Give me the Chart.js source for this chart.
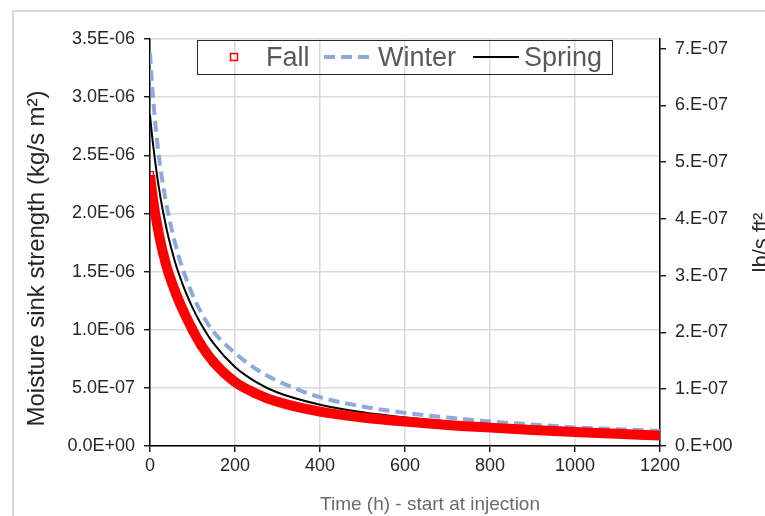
<!DOCTYPE html>
<html>
<head>
<meta charset="utf-8">
<script src="https://cdn.jsdelivr.net/npm/chart.js@4.4.1/dist/chart.umd.min.js"></script>
<style>
  html, body { margin: 0; padding: 0; background: #fff; overflow: hidden; }
  #wrap { position: relative; width: 765px; height: 516px; overflow: hidden; }
  #frame { position: absolute; left: 12px; top: 10px; width: 800px; height: 600px;
           border-left: 2px solid #d9d9d9; border-top: 2px solid #d9d9d9; }
  #myChart { position: absolute; left: 0; top: 0; }
  #legend { position: absolute; left: 197px; top: 40px; width: 416px; height: 35px; box-sizing: border-box;
            border: 1.5px solid #262626; font: 27px 'Liberation Sans', Arial, sans-serif; color: #595959; }
  #legend canvas, #legend span { position: absolute; top: 0; }
  #legend span { line-height: 32px; white-space: nowrap; }
</style>
</head>
<body>
<div id="wrap">
  <div id="frame"></div>
  <canvas id="myChart" width="765" height="516"></canvas>
  <div id="legend"></div>
</div>
<script>
// time since injection (h)
const hours = [0, 2, 4, 6, 8, 10, 12, 15, 18, 21, 25, 30, 35, 40, 50, 60, 70, 80, 100, 120, 150, 200, 250, 300, 400, 500, 600, 700, 800, 900, 1000, 1100, 1200];

// moisture sink strength, in 1E-06 kg/s m2
const fall   = [2.33, 2.27, 2.21, 2.15, 2.10, 2.05, 2.00, 1.94, 1.88, 1.82, 1.75, 1.67, 1.60, 1.53, 1.42, 1.32, 1.23, 1.15, 1.00, 0.87, 0.72, 0.55, 0.45, 0.38, 0.295, 0.245, 0.21, 0.18, 0.158, 0.138, 0.12, 0.105, 0.09];
const winter = [3.38, 3.26, 3.15, 3.05, 2.96, 2.87, 2.79, 2.68, 2.58, 2.49, 2.38, 2.26, 2.15, 2.05, 1.88, 1.73, 1.60, 1.49, 1.30, 1.15, 0.98, 0.80, 0.66, 0.56, 0.42, 0.34, 0.285, 0.245, 0.21, 0.185, 0.16, 0.145, 0.13];
const spring = [2.85, 2.77, 2.70, 2.63, 2.57, 2.51, 2.45, 2.37, 2.29, 2.22, 2.13, 2.03, 1.94, 1.85, 1.70, 1.57, 1.46, 1.36, 1.19, 1.05, 0.88, 0.68, 0.55, 0.46, 0.355, 0.29, 0.245, 0.21, 0.18, 0.16, 0.14, 0.125, 0.11];

const seriesNames = ['Fall', 'Winter', 'Spring'];

const xTickLabels = ['0', '200', '400', '600', '800', '1000', '1200'];
const leftTickLabels = ['0.0E+00', '5.0E-07', '1.0E-06', '1.5E-06', '2.0E-06', '2.5E-06', '3.0E-06', '3.5E-06'];
const rightTickLabels = ['0.E+00', '1.E-07', '2.E-07', '3.E-07', '4.E-07', '5.E-07', '6.E-07', '7.E-07'];

const xTitle = 'Time (h) - start at injection';
const leftTitle = 'Moisture sink strength (kg/s m\u00b2)';
const rightTitle = 'lb/s ft\u00b2';

const MICRO = 1e-6;
const KG_M2_PER_LB_FT2 = 4.8824;
const LEFT_MAX = 3.5e-6;

const FONT = "'Liberation Sans', Arial, sans-serif";
Chart.defaults.font.family = FONT;
Chart.defaults.font.size = 18;
Chart.defaults.color = '#262626';

function points(values) {
    return hours.map((h, i) => ({x: h, y: values[i] * MICRO}));
}

// axis titles are placed where the original puts them (not centred on the axis)
const axisTitles = {
    id: 'axisTitles',
    afterDraw(chart) {
        const ctx = chart.ctx;
        const a = chart.chartArea;
        const midY = (a.top + a.bottom) / 2;
        ctx.save();
        ctx.textAlign = 'center';

        ctx.fillStyle = '#262626';
        ctx.font = '24px ' + FONT;
        ctx.textBaseline = 'middle';
        ctx.save();
        ctx.translate(37, midY + 16);
        ctx.rotate(-Math.PI / 2);
        ctx.fillText(leftTitle, 0, 0);
        ctx.restore();

        ctx.font = '22px ' + FONT;
        ctx.textBaseline = 'alphabetic';
        ctx.save();
        ctx.translate(768, midY);
        ctx.rotate(-Math.PI / 2);
        ctx.fillText(rightTitle, 0, 0);
        ctx.restore();

        ctx.fillStyle = '#6b6b6b';
        ctx.font = '19px ' + FONT;
        ctx.textBaseline = 'middle';
        ctx.fillText(xTitle, (a.left + a.right) / 2 + 25, 505);
        ctx.restore();
    }
};

const gridStyle = {color: '#d9d9d9', lineWidth: 1.5, tickColor: '#000', tickLength: 6, tickWidth: 1.3};
const borderStyle = {color: '#000', width: 1.5};

const myChart = document.getElementById('myChart').getContext('2d');

let sinkChart = new Chart(myChart, {
    type: 'line',
    data: {
        datasets: [{
            label: seriesNames[0],
            data: points(fall),
            borderColor: '#ff0000',
            borderWidth: 10,
            pointStyle: 'rect',
            pointRadius: 4.8,
            pointBorderColor: '#ff0000',
            pointBackgroundColor: 'rgba(255,255,255,0)',
            pointBorderWidth: 1.2,
            cubicInterpolationMode: 'monotone',
            yAxisID: 'y'
        }, {
            label: seriesNames[1],
            data: points(winter),
            borderColor: '#8eaadb',
            borderWidth: 4,
            borderDash: [11, 6],
            pointRadius: 0,
            cubicInterpolationMode: 'monotone',
            yAxisID: 'y'
        }, {
            label: seriesNames[2],
            data: points(spring),
            borderColor: '#000000',
            borderWidth: 2,
            pointRadius: 0,
            cubicInterpolationMode: 'monotone',
            yAxisID: 'y'
        }]
    },
    options: {
        responsive: false,
        animation: false,
        devicePixelRatio: 1,
        layout: {padding: {top: 39, left: 0, right: 0, bottom: 0}},
        plugins: {
            legend: {display: false},
            tooltip: {enabled: false}
        },
        scales: {
            x: {
                type: 'linear',
                min: 0,
                max: 1200,
                grid: gridStyle,
                border: borderStyle,
                ticks: {stepSize: 200, padding: 3, maxRotation: 0, callback: (v, i) => xTickLabels[i]},
                afterFit: (scale) => { scale.height = 70; }
            },
            y: {
                position: 'left',
                min: 0,
                max: LEFT_MAX,
                grid: gridStyle,
                border: borderStyle,
                ticks: {stepSize: 5e-7, padding: 9, callback: (v, i) => leftTickLabels[i]},
                afterFit: (scale) => { scale.width = 150; }
            },
            y2: {
                position: 'right',
                min: 0,
                max: LEFT_MAX / KG_M2_PER_LB_FT2,
                grid: Object.assign({}, gridStyle, {drawOnChartArea: false}),
                border: borderStyle,
                ticks: {stepSize: 1e-7, includeBounds: false, padding: 9, callback: (v, i) => rightTickLabels[i]},
                afterFit: (scale) => { scale.width = 105; }
            }
        }
    },
    plugins: [axisTitles]
});

// html legend built from the datasets
const legendSlots = [{swatch: 30, width: 12, text: 68}, {swatch: 126, width: 47, text: 180}, {swatch: 275, width: 46, text: 326}];
const legendBox = document.getElementById('legend');
sinkChart.data.datasets.forEach((ds, i) => {
    const slot = legendSlots[i];
    const cv = document.createElement('canvas');
    cv.width = slot.width;
    cv.height = 32;
    cv.style.left = slot.swatch + 'px';
    const c = cv.getContext('2d');
    const mid = 16;
    if (ds.pointStyle === 'rect') {
        c.strokeStyle = ds.pointBorderColor;
        c.lineWidth = ds.pointBorderWidth + 0.3;
        c.strokeRect(slot.width / 2 - 3.5, mid - 3.5, 7, 7);
    } else {
        c.strokeStyle = ds.borderColor;
        c.lineWidth = ds.borderWidth;
        c.setLineDash(ds.borderDash || []);
        c.beginPath();
        c.moveTo(0, mid);
        c.lineTo(slot.width, mid);
        c.stroke();
    }
    legendBox.appendChild(cv);
    const span = document.createElement('span');
    span.textContent = ds.label;
    span.style.left = slot.text + 'px';
    legendBox.appendChild(span);
});
</script>
</body>
</html>
